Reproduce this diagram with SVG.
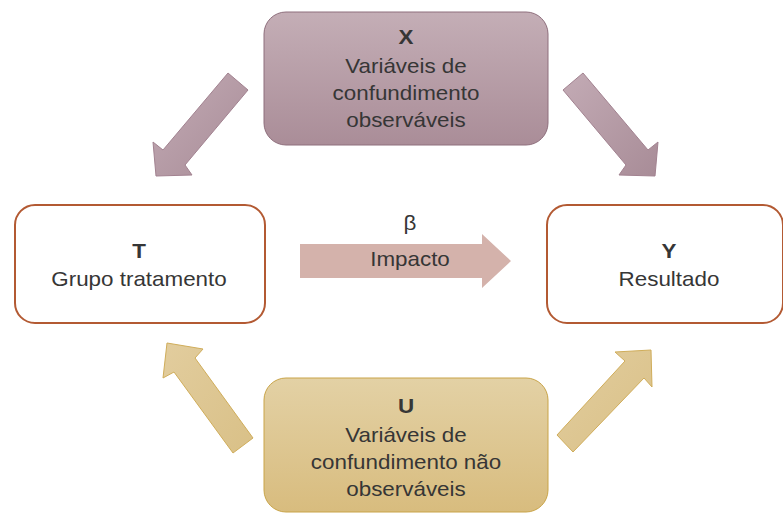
<svg xmlns="http://www.w3.org/2000/svg" width="783" height="513" viewBox="0 0 783 513">
  <defs>
    <linearGradient id="gX" x1="0" y1="0" x2="0" y2="1">
      <stop offset="0" stop-color="#c4aeb6"/>
      <stop offset="1" stop-color="#aa8d98"/>
    </linearGradient>
    <linearGradient id="gXa" x1="0" y1="0" x2="1" y2="1">
      <stop offset="0" stop-color="#c3abb5"/>
      <stop offset="1" stop-color="#a88c97"/>
    </linearGradient>
    <linearGradient id="gU" x1="0" y1="0" x2="0" y2="1">
      <stop offset="0" stop-color="#e3d1a5"/>
      <stop offset="1" stop-color="#d8bc7e"/>
    </linearGradient>
    <linearGradient id="gUa" x1="0" y1="0" x2="1" y2="1">
      <stop offset="0" stop-color="#e2cd9e"/>
      <stop offset="1" stop-color="#d9c087"/>
    </linearGradient>
  </defs>
  <style>
    text { font-family: "Liberation Sans", Arial, sans-serif; font-size: 20px; fill: #363636; text-anchor: middle; }
    .b { font-weight: bold; }
    .plain { fill: #ffffff; stroke: #b35a33; stroke-width: 2; }
    .xbox { fill: url(#gX); stroke: #8e6e7c; stroke-width: 1; }
    .ubox { fill: url(#gU); stroke: #c9a448; stroke-width: 1; }
    .xarr { fill: url(#gXa); stroke: #a28290; stroke-width: 1; }
    .uarr { fill: url(#gUa); stroke: #d0ad5a; stroke-width: 1; }
    .marr { fill: #d4b2ab; }
  </style>

  <g id="connectors">
    <polygon class="xarr" points="228,73 248,90 185,165 192,175 156,176 153,142 163,150"/>
    <polygon class="xarr" points="583,73 563,90 626,165 619,175 655,176 658,142 648,150"/>
    <polygon class="uarr" points="167,343 203,349 195,358 253,438 233,453 174,372 163,378"/>
    <polygon class="uarr" points="651,350 652,387 644,378 573,452 557,435 625,361 615,352"/>
    <g id="impact">
      <polygon class="marr" points="300,244 482,244 482,234 511,261 482,288 482,278 300,278"/>
      <text transform="translate(410 0) scale(1.12 1)" x="0" y="230">β</text>
      <text transform="translate(410 0) scale(1.12 1)" x="0" y="266">Impacto</text>
    </g>
  </g>

  <g id="nodeX">
    <rect class="xbox" x="264" y="12" width="284" height="133" rx="22" ry="22"/>
    <text class="b" transform="translate(406 0) scale(1.12 1)" x="0" y="44">X</text>
    <text transform="translate(406 0) scale(1.12 1)" x="0" y="73">Variáveis de</text>
    <text transform="translate(406 0) scale(1.12 1)" x="0" y="100">confundimento</text>
    <text transform="translate(406 0) scale(1.12 1)" x="0" y="127">observáveis</text>
  </g>

  <g id="nodeT">
    <rect class="plain" x="15" y="205" width="250" height="118" rx="20" ry="20"/>
    <text class="b" transform="translate(139 0) scale(1.12 1)" x="0" y="258">T</text>
    <text transform="translate(139 0) scale(1.12 1)" x="0" y="286">Grupo tratamento</text>
  </g>

  <g id="nodeY">
    <rect class="plain" x="547" y="205" width="236" height="118" rx="20" ry="20"/>
    <text class="b" transform="translate(669 0) scale(1.12 1)" x="0" y="258">Y</text>
    <text transform="translate(669 0) scale(1.12 1)" x="0" y="286">Resultado</text>
  </g>

  <g id="nodeU">
    <rect class="ubox" x="264" y="378" width="284" height="134" rx="22" ry="22"/>
    <text class="b" transform="translate(406 0) scale(1.12 1)" x="0" y="413">U</text>
    <text transform="translate(406 0) scale(1.12 1)" x="0" y="442">Variáveis de</text>
    <text transform="translate(406 0) scale(1.12 1)" x="0" y="469">confundimento não</text>
    <text transform="translate(406 0) scale(1.12 1)" x="0" y="496">observáveis</text>
  </g>
</svg>
